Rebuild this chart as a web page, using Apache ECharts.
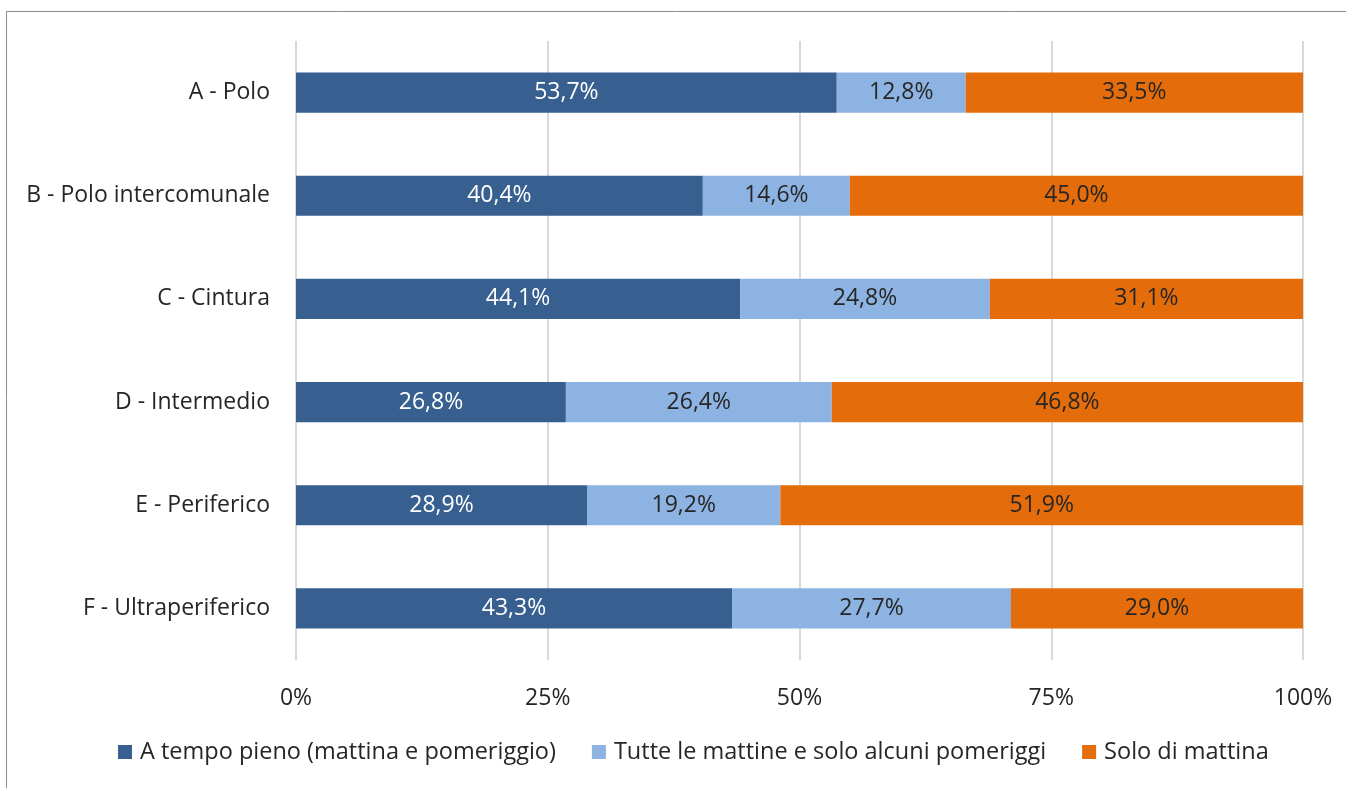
<!DOCTYPE html>
<html>
<head>
<meta charset="utf-8">
<script src="https://cdn.jsdelivr.net/npm/echarts@6/dist/echarts.min.js"></script>
<style>
html,body{margin:0;padding:0;background:#fff;}
#chart{width:1346px;height:788px;}
</style>
</head>
<body>
<div id="chart"></div>
<script>
const categories = ["A - Polo","B - Polo intercomunale","C - Cintura","D - Intermedio","E - Periferico","F - Ultraperiferico"];
const seriesNames = ["A tempo pieno (mattina e pomeriggio)","Tutte le mattine e solo alcuni pomeriggi","Solo di mattina"];
const tempoPieno = [53.7,40.4,44.1,26.8,28.9,43.3];
const tutteMattine = [12.8,14.6,24.8,26.4,19.2,27.7];
const soloMattina = [33.5,45.0,31.1,46.8,51.9,29.0];
const xTicks = [0,25,50,75,100];

const FONT = "Open Sans";
const FS = 23;
const colors = ["#375F8F","#8DB3E2","#E46C0A"];
const labelColors = ["#ffffff","#262626","#262626"];
const dataSets = [tempoPieno,tutteMattine,soloMattina];

const chart = echarts.init(document.getElementById('chart'));
chart.setOption({
  animation:false,
  textStyle:{fontFamily:FONT},
  graphic:[
    {type:'line',shape:{x1:7,y1:11.5,x2:1346,y2:11.5},style:{stroke:'#8c8c8c',lineWidth:1}},
    {type:'line',shape:{x1:6.5,y1:11,x2:6.5,y2:788},style:{stroke:'#8c8c8c',lineWidth:1}}
  ],
  grid:{left:296,right:43,top:41,bottom:128,containLabel:false},
  legend:{
    bottom:19,left:113,
    itemWidth:14,itemHeight:14,itemGap:36,
    icon:'rect',
    textStyle:{fontFamily:FONT,fontSize:23.5,color:'#262626',padding:[0,0,0,3]},
    data:seriesNames
  },
  xAxis:{
    type:'value',min:0,max:100,interval:25,
    axisLine:{show:false},axisTick:{show:false},
    splitLine:{lineStyle:{color:'#d9d9d9',width:2}},
    axisLabel:{margin:27,fontSize:FS,color:'#262626',fontFamily:FONT,
      formatter:v=>xTicks.includes(v)?v+'%':''}
  },
  yAxis:{
    type:'category',inverse:true,data:categories,
    axisLine:{show:false},axisTick:{show:false},
    axisLabel:{margin:26,fontSize:FS,color:'#262626',fontFamily:FONT}
  },
  series:dataSets.map((d,i)=>({
    name:seriesNames[i],type:'bar',stack:'total',
    barCategoryGap:'61%',
    data:d,
    itemStyle:{color:colors[i]},
    label:{show:true,position:'inside',fontSize:FS,fontFamily:FONT,color:labelColors[i],
      formatter:p=>p.value.toFixed(1).replace('.',',')+'%'}
  }))
});
</script>
</body>
</html>
